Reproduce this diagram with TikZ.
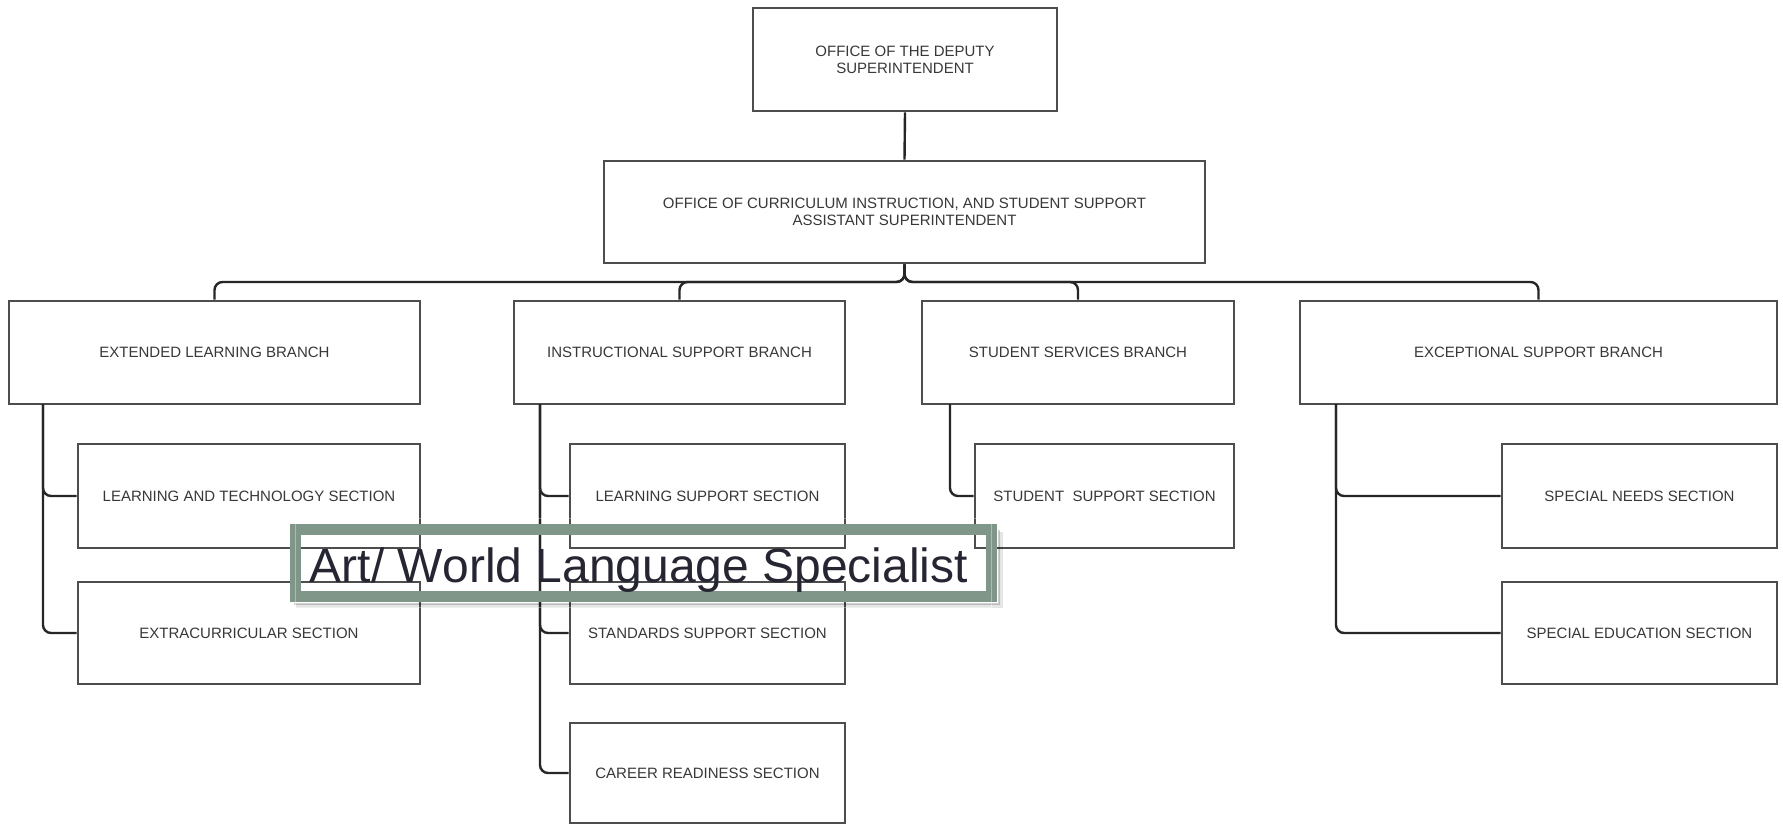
\documentclass[tikz,border=0pt]{standalone}
\usepackage{fontspec}
\setmainfont{Liberation Sans}
\definecolor{boxline}{HTML}{4D4D4D}
\definecolor{linkline}{HTML}{262626}
\definecolor{labeltext}{HTML}{383838}
\definecolor{framegreen}{RGB}{127,150,137}
\definecolor{overlayink}{HTML}{262633}
\begin{document}
\begin{tikzpicture}[x=1pt,y=-1pt,
  orgbox/.style={draw=boxline, line width=2.6pt, rectangle, inner sep=0pt,
    text=labeltext, font=\fontsize{15}{17}\selectfont, align=center},
  link/.style={draw=linkline, line width=2.4pt, rounded corners=8pt},
  framebox/.style={draw=framegreen, line width=11pt, rectangle, inner sep=0pt}]
\useasboundingbox[fill=white] (0,0) rectangle (1783,826);

% top levels
\node[orgbox, minimum width=304pt, minimum height=103pt] (deputy) at (905,59.5)
  {OFFICE OF THE DEPUTY\\SUPERINTENDENT};
\node[orgbox, minimum width=601pt, minimum height=102pt] (curric) at (904.5,212)
  {OFFICE OF CURRICULUM INSTRUCTION, AND STUDENT SUPPORT\\ASSISTANT SUPERINTENDENT};

% branches
\node[orgbox, minimum width=411pt, minimum height=103pt] (ext) at (214.5,352.5) {EXTENDED LEARNING BRANCH};
\node[orgbox, minimum width=331pt, minimum height=103pt] (ins) at (679.5,352.5) {INSTRUCTIONAL SUPPORT BRANCH};
\node[orgbox, minimum width=312pt, minimum height=103pt] (stu) at (1078,352.5) {STUDENT SERVICES BRANCH};
\node[orgbox, minimum width=477pt, minimum height=103pt] (exc) at (1538.5,352.5) {EXCEPTIONAL SUPPORT BRANCH};

% sections
\node[orgbox, minimum width=342pt, minimum height=104pt] (lts) at (249,496) {LEARNING AND TECHNOLOGY SECTION};
\node[orgbox, minimum width=342pt, minimum height=102pt] (ecs) at (249,633) {EXTRACURRICULAR SECTION};
\node[orgbox, minimum width=275pt, minimum height=104pt] (lss) at (707.5,496) {LEARNING SUPPORT SECTION};
\node[orgbox, minimum width=275pt, minimum height=102pt] (sss) at (707.5,633) {STANDARDS SUPPORT SECTION};
\node[orgbox, minimum width=275pt, minimum height=100pt] (crs) at (707.5,773) {CAREER READINESS SECTION};
\node[orgbox, minimum width=259pt, minimum height=104pt] (sus) at (1104.5,496) {STUDENT \ SUPPORT SECTION};
\node[orgbox, minimum width=275pt, minimum height=104pt] (sns) at (1639.5,496) {SPECIAL NEEDS SECTION};
\node[orgbox, minimum width=275pt, minimum height=102pt] (sed) at (1639.5,633) {SPECIAL EDUCATION SECTION};

% bus and trunk points
\coordinate (bus) at (0,282);
\coordinate (exttrunk) at (43,404);
\coordinate (instrunk) at (540,404);
\coordinate (stutrunk) at (950,404);
\coordinate (exctrunk) at (1336,404);

% connectors
\draw[link] (deputy.south) -- (curric.north);
\foreach \b in {ext,ins,stu,exc}
  \draw[link] (curric.south) -- (curric.south |- bus) -| (\b.north);
\draw[link] (exttrunk) |- (lts.west);
\draw[link] (exttrunk) |- (ecs.west);
\draw[link] (instrunk) |- (lss.west);
\draw[link] (instrunk) |- (sss.west);
\draw[link] (instrunk) |- (crs.west);
\draw[link] (stutrunk) |- (sus.west);
\draw[link] (exctrunk) |- (sns.west);
\draw[link] (exctrunk) |- (sed.west);

% caption frame with its soft shadow
\draw[black, opacity=0.10, line width=4pt] (1001,532) -- (1001,606) -- (296,606);
\draw[black, opacity=0.18, line width=2pt] (999,530) -- (999,604) -- (294,604);
\node[framebox, minimum width=696pt, minimum height=67pt] (caption) at (643.5,563) {};
\draw[white, opacity=0.35, line width=1pt] (caption.north west) ++(5.5,-5.5) rectangle ([shift={(-5.5,5.5)}]caption.south east);
\node[anchor=base, inner sep=0pt, text=overlayink, font=\fontsize{48}{56}\selectfont] (captiontext) at (639,582)
  {Art/ World Language Specialist};
\end{tikzpicture}
\end{document}
